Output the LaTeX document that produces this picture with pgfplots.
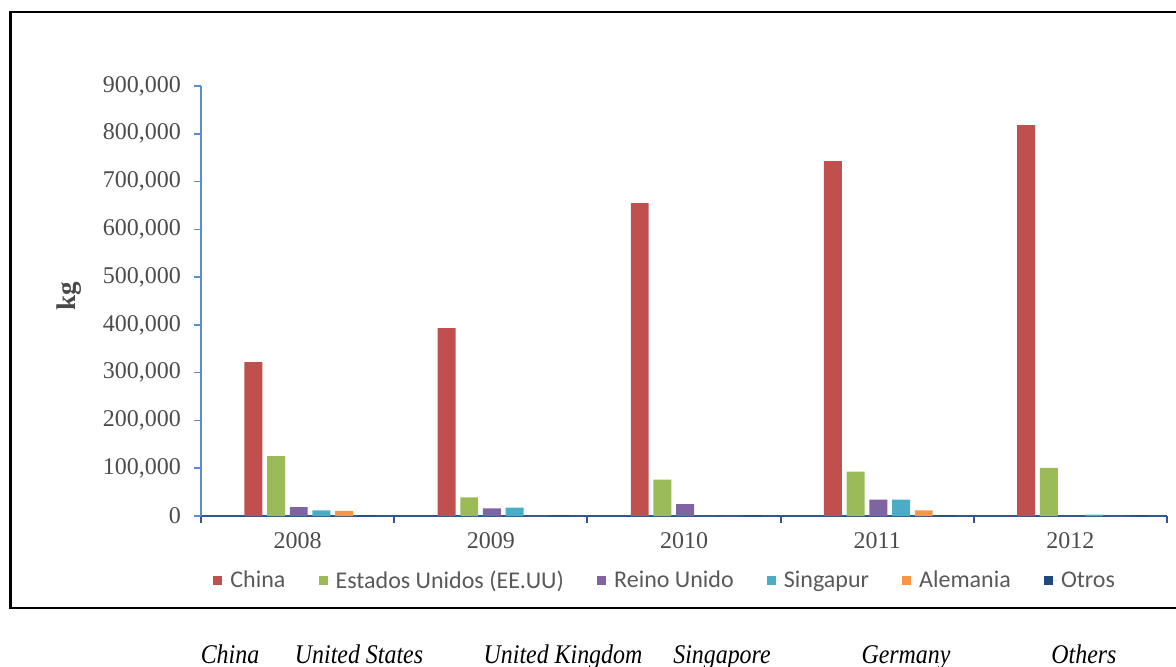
\documentclass[border=0pt]{standalone}
\usepackage{pgfplots}
\pgfplotsset{compat=1.18}
\usepackage{fontspec}
\setmainfont{Liberation Serif}
\newfontfamily\legendfont{Carlito}

\definecolor{cChina}{HTML}{C0504D}
\definecolor{cUS}{HTML}{9BBB59}
\definecolor{cUK}{HTML}{8064A2}
\definecolor{cSG}{HTML}{4BACC6}
\definecolor{cDE}{HTML}{F79646}
\definecolor{cOther}{HTML}{1F497D}
\definecolor{txtgray}{HTML}{595959}
\definecolor{xaxisblue}{HTML}{30578F}
\definecolor{yaxisblue}{HTML}{5B8BD0}

% exports in kg per destination, years 2008--2012 at x = 0..4
\pgfplotstableread{
x  china  us      uk     sg     de     otros
0  322000 125500  18800  12000  11000  1500
1  393500 39000   16000  17400  0      1500
2  655000 76000   25000  0      0      1500
3  743000 92700   34300  34300  12000  1500
4  818000 100500  0      3000   0      1500
}\exports

\begin{document}
\begin{tikzpicture}[x=0.5pt,y=0.5pt]
\clip (0,0) rectangle (1176,666);
\path[use as bounding box] (0,0) rectangle (1176,666);
\draw[line width=1.25pt,black] (10.5,58) rectangle (1200,654);

\begin{axis}[
  at={(201pt*0.5,150pt*0.5)}, anchor=south west,
  scale only axis, width=483pt, height=215pt,
  xmin=-0.5, xmax=4.5, ymin=0, ymax=900000,
  ybar, bar width=0.093,
  axis x line*=bottom, axis y line*=left,
  x axis line style={xaxisblue, line width=1pt, -},
  y axis line style={yaxisblue, line width=0.8pt, -},
  xtick={0,1,2,3,4},
  xticklabels={2008,2009,2010,2011,2012},
  major x tick style={draw=none},
  minor xtick={-0.5,0.5,1.5,2.5,3.5,4.5},
  minor x tick style={xaxisblue, line width=1pt},
  minor tick length=3.5pt,
  ytick={0,100000,...,900000},
  major y tick style={yaxisblue, line width=0.8pt},
  major tick length=3.5pt,
  tick align=outside,
  scaled y ticks=false,
  /pgf/number format/assume math mode=true,
  /pgf/number format/.cd, fixed, precision=0, 1000 sep={,}, /pgfplots/.cd,
  ticklabel style={font=\fontsize{12}{14}\selectfont, text=txtgray!85!black},
  xticklabel style={yshift=-1pt},
  yticklabel style={xshift=-3pt},
  ylabel={\textbf{kg}},
  ylabel style={font=\fontsize{13.5}{15}\selectfont\bfseries, text=txtgray!80!black, at={(axis description cs:-0.137,0.51)}, anchor=center},
  legend columns=6,
  legend style={draw=none, fill=none, inner sep=0pt,
    at={(axis description cs:0.0124,-0.151)}, anchor=west,
    font=\legendfont\fontsize{12}{13}\selectfont, text=txtgray,
    /tikz/every even column/.append style={column sep=14.6pt}},
  legend image code/.code={\fill[#1] (0pt,-2.25pt) rectangle (4.5pt,2.25pt);
    \path (0pt,0pt) -- (6.5pt,0pt);},
  every axis plot/.append style={draw=none},
]
\addplot[fill=cChina, bar shift=-0.229] table[x=x,y=china]{\exports};
\addplot[fill=cUS,    bar shift=-0.1115] table[x=x,y=us]{\exports};
\addplot[fill=cUK,    bar shift=0.006] table[x=x,y=uk]{\exports};
\addplot[fill=cSG,    bar shift=0.1235] table[x=x,y=sg]{\exports};
\addplot[fill=cDE,    bar shift=0.241] table[x=x,y=de]{\exports};
\addplot[fill=cOther, bar shift=0.3585] table[x=x,y=otros]{\exports};
\legend{China, Estados Unidos (EE.UU), Reino Unido, Singapur, Alemania, Otros}
\end{axis}

\begin{scope}[every node/.style={font=\fontsize{13.5}{15}\selectfont\itshape, text=black, anchor=base, xscale=0.885, transform shape}]
\node at (230,3) {China};
\node at (359,3) {United States};
\node at (563,3) {United Kingdom};
\node at (722,3) {Singapore};
\node at (906,3) {Germany};
\node at (1084,3) {Others};
\end{scope}
\end{tikzpicture}
\end{document}
